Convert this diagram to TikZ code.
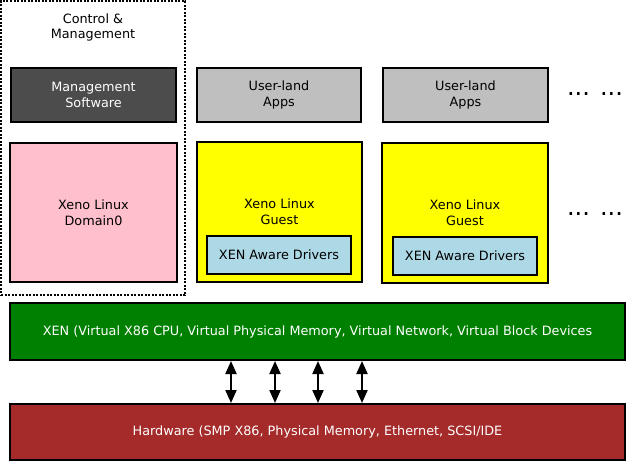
\documentclass[tikz,border=0pt]{standalone}
\usepackage{fontspec}
\setmainfont{DejaVu Sans}
\usetikzlibrary{arrows.meta}
\begin{document}
\begin{tikzpicture}[x=1pt,y=-1pt,
  box/.style={draw=black,line width=2pt,inner sep=0pt,align=center,
    font=\fontsize{12.8}{15.5}\selectfont},
  lbl/.style={inner sep=0pt,align=center,font=\fontsize{12.8}{15.5}\selectfont},
  dots/.style={inner sep=0pt,font=\fontsize{24}{24}\selectfont},
  dbl/.style={line width=2pt,{Triangle[width=11pt,length=13pt]}-{Triangle[width=11pt,length=13pt]}}]
\useasboundingbox (0,0) rectangle (628,467);
% control & management
\node[draw=black,line width=2pt,dash pattern=on 2pt off 1.5pt,minimum width=184pt,minimum height=294pt,inner sep=0pt] (ctrl) at (93,148) {};
\node[lbl] (ctrltxt) at (93,27.5) {Control \&\\Management};
\node[box,fill=black!70,text=white,minimum width=165pt,minimum height=54pt] (mgmt) at (93.5,95) {Management\\Software};
\node[box,fill={rgb,255:red,255;green,192;blue,203},minimum width=167pt,minimum height=139pt] (dom0) at (93.5,212.5) {Xeno Linux\\Domain0};
% user-land
\node[box,fill=black!25,minimum width=164pt,minimum height=54pt] (apps1) at (279,95) {User-land\\Apps};
\node[box,fill=black!25,minimum width=165pt,minimum height=54pt] (apps2) at (465.5,95) {User-land\\Apps};
% guests
\node[box,fill={rgb,255:red,255;green,255;blue,0},minimum width=165pt,minimum height=140pt] (guest1) at (279.5,212) {};
\node[box,fill={rgb,255:red,255;green,255;blue,0},minimum width=166pt,minimum height=140pt] (guest2) at (465,213) {};
\node[lbl] (g1txt) at (279.5,211.5) {Xeno Linux\\Guest};
\node[lbl] (g2txt) at (465,212.5) {Xeno Linux\\Guest};
\node[box,fill={rgb,255:red,173;green,216;blue,230},minimum width=144pt,minimum height=38pt] (drv1) at (279,255) {XEN Aware Drivers};
\node[box,fill={rgb,255:red,173;green,216;blue,230},minimum width=144pt,minimum height=38pt] (drv2) at (465,256) {XEN Aware Drivers};
% dots
\node[dots] (d1) at (595,94) {... ...};
\node[dots] (d2) at (595,214) {... ...};
% xen & hardware
\node[box,fill={rgb,255:red,0;green,128;blue,0},text=white,minimum width=615pt,minimum height=57pt] (xen) at (317.5,331.5) {XEN (Virtual X86 CPU, Virtual Physical Memory, Virtual Network, Virtual Block Devices};
\node[box,fill={rgb,255:red,165;green,42;blue,42},text=white,minimum width=615pt,minimum height=56pt] (hw) at (317.5,432) {Hardware (SMP X86, Physical Memory, Ethernet, SCSI/IDE};
\foreach \i/\x in {1/231,2/275,3/318,4/362}{
  \coordinate (a\i) at (\x,0);
  \draw[dbl] (xen.south -| a\i) -- (hw.north -| a\i);
}
\end{tikzpicture}
\end{document}
